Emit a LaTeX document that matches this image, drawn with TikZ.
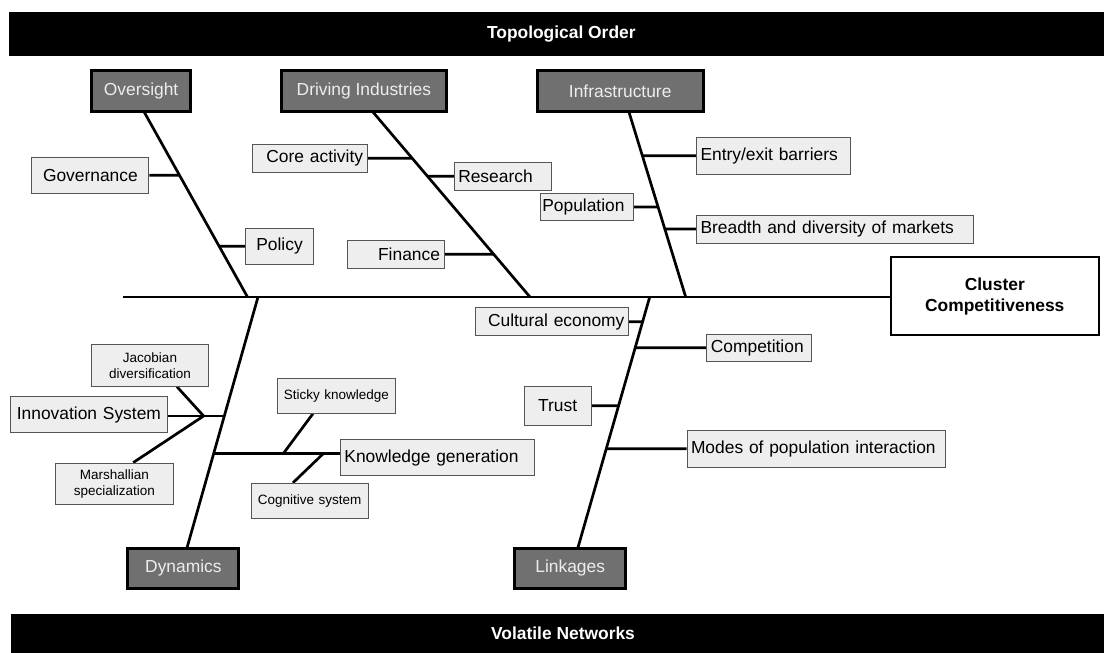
\documentclass[tikz,border=0pt]{standalone}
\usepackage{fontspec}
\setmainfont{Liberation Sans}
\usetikzlibrary{calc,backgrounds}
\definecolor{catfill}{HTML}{707070}
\definecolor{cattext}{HTML}{EDEDED}
\definecolor{subfill}{HTML}{EEEEEE}
\definecolor{subline}{HTML}{555555}
\begin{document}
\begin{tikzpicture}[x=1pt,y=-1pt,
  bone/.style={line width=2.7pt},
  cat/.style={draw=black, line width=3pt, fill=catfill, text=cattext, inner sep=0pt,
    font=\fontsize{17.4}{20}\selectfont},
  sub/.style={draw=subline, line width=0.9pt, fill=subfill, inner xsep=4pt, inner ysep=0pt,
    font=\fontsize{17.4}{20}\selectfont},
  small/.style={sub, align=center, font=\fontsize{13.5}{16}\selectfont},
  bar/.style={fill=black, text=white, inner sep=0pt, font=\bfseries\fontsize{17.4}{20}\selectfont},
  goal/.style={draw=black, line width=2.2pt, fill=white, align=center, inner sep=0pt,
    font=\bfseries\fontsize{17.4}{21}\selectfont}]
\useasboundingbox (0,0) rectangle (1104,653);

% header and footer bands
\node[bar, minimum width=1095.4pt, minimum height=44pt] (top) at (556.3,34) {\hspace*{10pt}Topological Order};
\node[bar, minimum width=1093pt, minimum height=39pt] (bot) at (557.5,633.5) {\hspace*{11pt}Volatile Networks};

% effect
\node[goal, minimum width=208.4pt, minimum height=77.7pt] (goal) at (994.8,296) {Cluster\\Competitiveness};

% category heads
\node[cat, minimum width=98.5pt, minimum height=40.5pt] (over) at (141.1,91) {Oversight};
\node[cat, minimum width=165.5pt, minimum height=40.5pt] (drive) at (363.9,91) {Driving Industries};
\node[cat, minimum width=166pt, minimum height=40.5pt] (infra) at (620.2,91) {Infrastructure};
\node[cat, minimum width=111pt, minimum height=40.5pt] (dyn) at (183.4,568.3) {Dynamics};
\node[cat, minimum width=110.5pt, minimum height=40.5pt] (link) at (570.2,568.3) {Linkages};

% causes: Oversight
\node[sub, text width=109pt, align=center, minimum height=36pt] (gov) at (90.4,175.2) {Governance};
\node[sub, text width=59.5pt, align=center, minimum height=36pt] (pol) at (279.5,246.3) {Policy};
% causes: Driving Industries
\node[sub, text width=106.6pt, align=right, minimum height=28pt] (core) at (309.8,158.3) {Core activity};
\node[sub, text width=89.5pt, align=left, minimum height=28pt] (res) at (503,176.2) {Research};
\node[sub, text width=89pt, align=right, minimum height=28pt] (fin) at (395.5,254.3) {Finance};
% causes: Infrastructure
\node[sub, text width=89pt, align=left, minimum height=27.4pt, inner xsep=2pt] (pop) at (586.8,207) {Population};
\node[sub, text width=146pt, align=left, minimum height=36.3pt] (entry) at (773.5,155.8) {Entry/exit barriers};
\node[sub, text width=269.3pt, align=left, minimum height=28pt] (bread) at (835.2,229) {Breadth and diversity of markets};
% causes: Linkages
\node[sub, text width=144.8pt, align=right, minimum height=28pt] (cult) at (552,321.7) {Cultural economy};
\node[sub, text width=96.3pt, align=left, minimum height=27.7pt] (comp) at (759,347.8) {Competition};
\node[sub, text width=59.4pt, align=center, minimum height=38.3pt] (trust) at (557.7,405.8) {Trust};
\node[sub, text width=250pt, align=left, minimum height=36.3pt] (modes) at (816,448.8) {Modes of population interaction};
% causes: Dynamics
\node[sub, text width=148.4pt, align=center, minimum height=36.4pt] (innov) at (88.9,414.5) {Innovation System};
\node[small, text width=108.4pt, minimum height=41.6pt] (jac) at (150,365.5) {Jacobian\\diversification};
\node[small, text width=109.5pt, minimum height=41.3pt] (mar) at (114.5,483.7) {Marshallian\\specialization};
\node[sub, text width=186.2pt, align=left, minimum height=35.6pt] (know) at (437.5,457.5) {Knowledge generation};
\node[small, text width=110.3pt, minimum height=34.6pt] (sticky) at (336.3,396) {Sticky knowledge};
\node[small, text width=109.2pt, minimum height=35pt] (cog) at (309.6,500.8) {Cognitive system};

% skeleton coordinates
\coordinate (spineL) at (123,297);
\coordinate (oT) at (143.9,111.5); \coordinate (oB) at (247.5,297);
\coordinate (dT) at (372.5,111.5); \coordinate (dB) at (530,297);
\coordinate (iT) at (628.8,111.5); \coordinate (iB) at (685.7,297);
\coordinate (yT) at (258,297);     \coordinate (yB) at (187,547.8);
\coordinate (lT) at (649.7,297);   \coordinate (lB) at (577.9,547.8);
\coordinate (hub) at (203.6,416);
\coordinate (hubB) at (224.2,416);
\coordinate (kroot) at (213.6,453.7);
\coordinate (kS) at (283.2,453.7);
\coordinate (kC) at (323.2,453.7);

\begin{scope}[on background layer]
  % spine and main bones
  \draw[bone] (spineL) -- (spineL -| goal.west);
  \draw[bone] (oT) -- (oB);
  \draw[bone] (dT) -- (dB);
  \draw[bone] (iT) -- (iB);
  \draw[bone] (yT) -- (yB);
  \draw[bone] (lT) -- (lB);
  % Oversight ribs
  \draw[bone] (gov.east) -- (intersection of gov.east--gov.west and oT--oB);
  \draw[bone] (pol.west) -- (intersection of pol.east--pol.west and oT--oB);
  % Driving Industries ribs
  \draw[bone] (core.east) -- (intersection of core.east--core.west and dT--dB);
  \draw[bone] (res.west) -- (intersection of res.east--res.west and dT--dB);
  \draw[bone] (fin.east) -- (intersection of fin.east--fin.west and dT--dB);
  % Infrastructure ribs
  \draw[bone] (pop.east) -- (intersection of pop.east--pop.west and iT--iB);
  \draw[bone] (entry.west) -- (intersection of entry.east--entry.west and iT--iB);
  \draw[bone] (bread.west) -- (intersection of bread.east--bread.west and iT--iB);
  % Linkages ribs
  \draw[bone] (cult.east) -- (intersection of cult.east--cult.west and lT--lB);
  \draw[bone] (comp.west) -- (intersection of comp.east--comp.west and lT--lB);
  \draw[bone] (trust.east) -- (intersection of trust.east--trust.west and lT--lB);
  \draw[bone] (modes.west) -- (intersection of modes.east--modes.west and lT--lB);
  % Dynamics ribs
  \draw[bone] (hub -| innov.east) -- (hub) -- (hubB);
  \draw[bone] ($(jac.south)+(27,0)$) -- (hub);
  \draw[bone] ($(mar.north)+(18.7,0)$) -- (hub);
  \draw[bone] (kroot) -- (kroot -| know.west);
  \draw[bone] ($(sticky.south)+(-23.4,0)$) -- (kS);
  \draw[bone] ($(cog.north)+(-16.7,0)$) -- (kC);
\end{scope}
\end{tikzpicture}
\end{document}
